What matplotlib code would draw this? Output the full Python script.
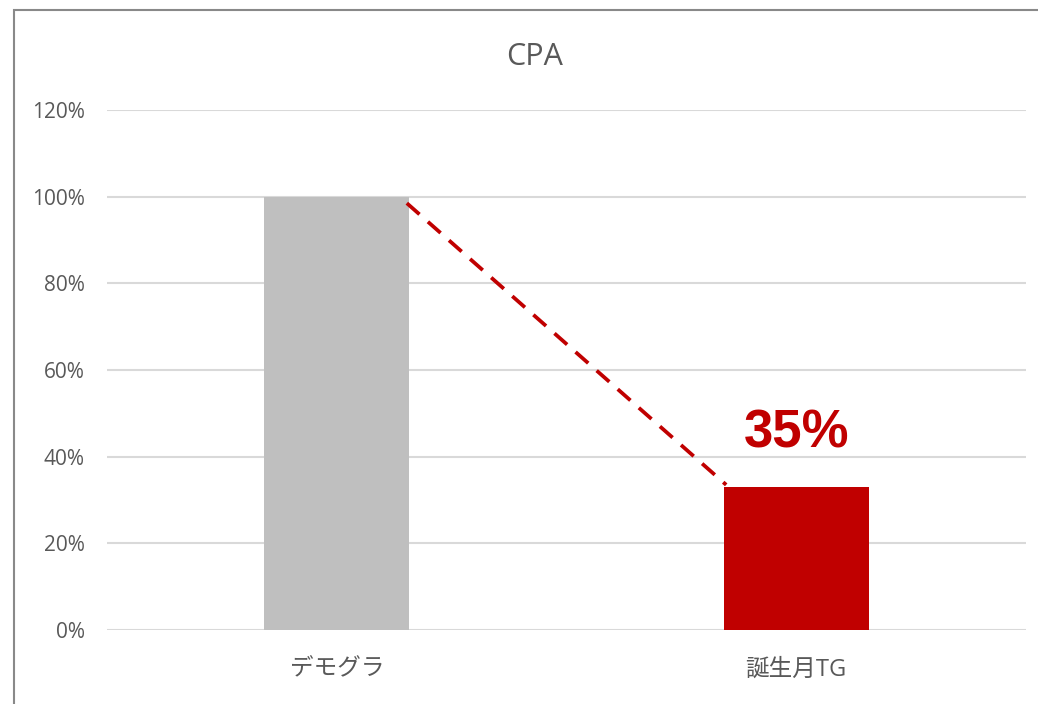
import matplotlib
matplotlib.use("Agg")
import matplotlib.pyplot as plt
from matplotlib.patches import Rectangle

plt.rcParams['font.family'] = ['Open Sans', 'Noto Sans CJK JP', 'DejaVu Sans']

categories = ["デモグラ", "誕生月TG"]
values = [1.00, 0.33]
bar_colors = ["#BFBFBF", "#C00000"]
yticks = [0.0, 0.2, 0.4, 0.6, 0.8, 1.0, 1.2]
ytick_labels = ["0%", "20%", "40%", "60%", "80%", "100%", "120%"]
title = "CPA"
annotation = "35%"

W, H = 1038, 704
fig = plt.figure(figsize=(W / 100, H / 100), dpi=100)

# chart frame (extends past right/bottom edge)
fig.patches.append(Rectangle((14 / W, -0.1), 1.2, 1 - 10 / H + 0.1,
                             transform=fig.transFigure, fill=False,
                             edgecolor="#898989", linewidth=1.5))

ax = fig.add_axes([107 / W, 1 - 630 / H, (1026 - 107) / W, (630 - 110) / H])
ax.set_xlim(-0.5, 1.5)
ax.set_ylim(0, 1.2)

width = 0.315
x = list(range(len(categories)))
ax.bar(x, values, width=width, color=bar_colors, zorder=3)

ax.set_yticks(yticks)
ax.set_yticklabels(ytick_labels)
ax.set_xticks(x)
ax.set_xticklabels(categories)
ax.grid(axis="y", color="#D9D9D9", linewidth=1.5, zorder=0)
ax.tick_params(length=0, colors="#595959")
ax.tick_params(axis="x", pad=20, labelsize=17)
ax.tick_params(axis="y", pad=16, labelsize=15)
for s in ax.spines.values():
    s.set_visible(False)

# dashed connector
ax.plot([x[0] + width / 2 - 0.005, x[1] - width / 2 + 0.005],
        [values[0] * 0.985, values[1] + 0.005],
        color="#C00000", linestyle=(0, (4.5, 3)), linewidth=2.7, zorder=4)

ax.text(x[1], values[1] + 0.123, annotation, ha="center", va="center",
        fontsize=38, fontweight="bold", color="#C00000",
        family=['Liberation Sans', 'DejaVu Sans'])

fig.text(535 / W, 1 - 57 / H, title, ha="center", va="center",
         fontsize=22, color="#595959")

fig.savefig("out.png", dpi=100, facecolor="white")
